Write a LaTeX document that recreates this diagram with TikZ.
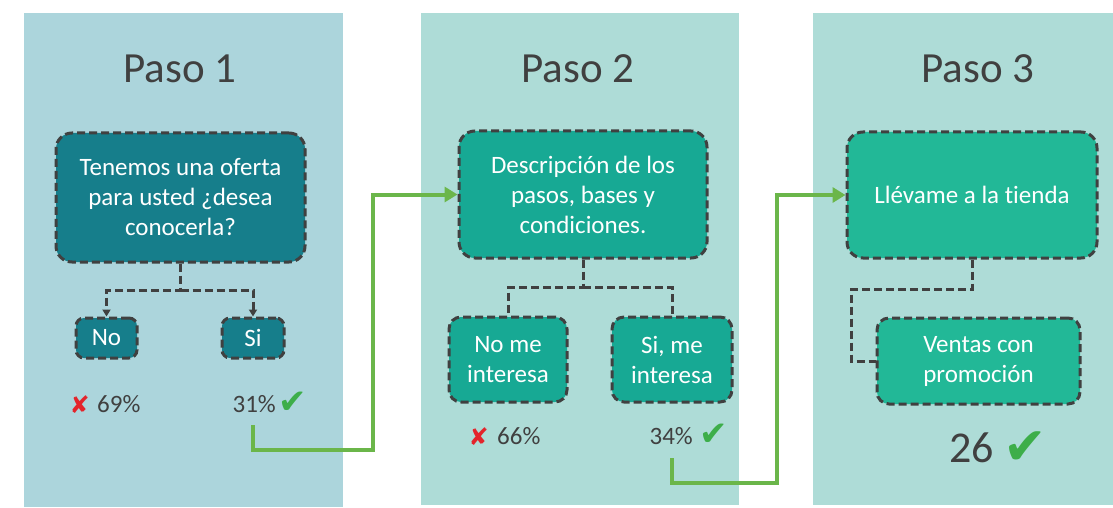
\documentclass[tikz,border=0pt]{standalone}
\usepackage{fontspec}
\setmainfont{Carlito}[Ligatures=NoCommon]
\newfontfamily\symfont{DejaVu Sans}
\usetikzlibrary{arrows.meta}
\definecolor{panelA}{HTML}{ACD5DC}
\definecolor{panelB}{HTML}{AEDCD7}
\definecolor{tealA}{HTML}{167E8B}
\definecolor{tealB}{HTML}{17A994}
\definecolor{tealC}{HTML}{22B897}
\definecolor{dashgray}{HTML}{404040}
\definecolor{txtgray}{HTML}{404040}
\definecolor{linegreen}{HTML}{6BB64A}
\definecolor{okgreen}{HTML}{3DAE4A}
\definecolor{badred}{HTML}{E3242B}
\begin{document}
\begin{tikzpicture}[x=1pt,y=-1pt,
  panelbox/.style={draw=none, inner sep=0pt, outer sep=0pt},
  title/.style={text=txtgray, font=\fontsize{43}{50}\selectfont, anchor=base, inner sep=0pt},
  stepbox/.style={draw=dashgray, line width=3pt, dash pattern=on 8pt off 4pt,
     rounded corners=#1, text=white, align=center, inner sep=0pt,
     font=\fontsize{25}{30}\selectfont},
  stepbox/.default=16pt,
  dconn/.style={draw=dashgray, line width=3pt, dash pattern=on 8pt off 4pt},
  greenline/.style={draw=linegreen, line width=4pt, -{Triangle[length=13pt,width=15pt]}},
  pct/.style={text=txtgray, font=\fontsize{25}{30}\selectfont, inner sep=0pt},
  okmark/.style={text=okgreen, font=\symfont\fontsize{#1}{#1}\selectfont, inner sep=0pt},
  okmark/.default=34,
  badmark/.style={text=badred, font=\symfont\fontsize{24}{24}\selectfont, inner sep=0pt}
]
\useasboundingbox (0,0) rectangle (1113,508);
\fill[white] (0,0) rectangle (1113,508);
% panels
\node[panelbox, fill=panelA, minimum width=319pt, minimum height=494pt] (p1) at (183.5,260) {};
\node[panelbox, fill=panelB, minimum width=318pt, minimum height=492pt] (p2) at (580,259) {};
\node[panelbox, fill=panelB, minimum width=300pt, minimum height=492pt] (p3) at (963,259) {};
% titles
\node[title] (t1) at (180,83) {Paso 1};
\node[title] (t2) at (578,83) {Paso 2};
\node[title] (t3) at (978,83) {Paso 3};
% step 1
\node[stepbox, fill=tealA, minimum width=249pt, minimum height=129pt] (b1) at (180.5,197.5)
  {Tenemos una oferta\\para usted ¿desea\\conocerla?};
\node[stepbox=8pt, fill=tealA, minimum width=61pt, minimum height=40pt] (no) at (106.5,338) {No};
\node[stepbox=8pt, fill=tealA, minimum width=62pt, minimum height=40pt] (si) at (253,338) {Si};
\coordinate (j1) at (180.5,290);
\draw[dconn, -{Triangle[length=7pt,width=8pt]}] (b1.south) -- (j1) -| (no.north);
\draw[dconn, -{Triangle[length=7pt,width=8pt]}] (j1) -| (si.north);
\node[badmark, anchor=base east] (x69) at (90,413) {✘};
\node[pct, anchor=base west] (n69) at (97,412) {69\%};
\node[pct, anchor=base east] (n31) at (276,412) {31\%};
\node[okmark, anchor=base west] (c31) at (278,413) {✔};
% step 2
\node[stepbox, fill=tealB, minimum width=248pt, minimum height=127pt] (b2) at (583,194.5)
  {Descripción de los\\pasos, bases y\\condiciones.};
\node[stepbox=12pt, fill=tealB, minimum width=118pt, minimum height=85pt] (nome) at (508,359.5) {No me\\interesa};
\node[stepbox=12pt, fill=tealB, minimum width=120pt, minimum height=85pt] (sime) at (672,359.5) {Si, me\\interesa};
\coordinate (j2) at (583,287);
\draw[dconn] (b2.south) -- (j2) -| (nome.north);
\draw[dconn] (j2) -| (sime.north);
\node[badmark, anchor=base east] (x66) at (489,445) {✘};
\node[pct, anchor=base west] (n66) at (497,444) {66\%};
\node[pct, anchor=base east] (n34) at (693,444) {34\%};
\node[okmark, anchor=base west] (c34) at (699,445) {✔};
% step 3
\node[stepbox, fill=tealC, minimum width=250pt, minimum height=126pt] (b3) at (972,195)
  {Llévame a la tienda};
\node[stepbox=12pt, fill=tealC, minimum width=203pt, minimum height=86pt] (vent) at (978.5,361) {Ventas con\\promoción};
\coordinate (k3) at (851,289);
\draw[dconn] (b3.south) |- (k3) |- (vent.west);
\node[pct, anchor=base east, font=\fontsize{44}{50}\selectfont] (n26) at (994,462) {26};
\node[okmark=52, anchor=base west] (c26) at (1003,464) {✔};
% green connectors
\coordinate (g1) at (252.5,425);
\coordinate (c1) at (373,450);
\draw[greenline] (g1) |- (c1) |- (b2.west);
\coordinate (g2) at (671.5,458);
\coordinate (c2) at (777,483);
\draw[greenline] (g2) |- (c2) |- (b3.west);
\end{tikzpicture}
\end{document}
